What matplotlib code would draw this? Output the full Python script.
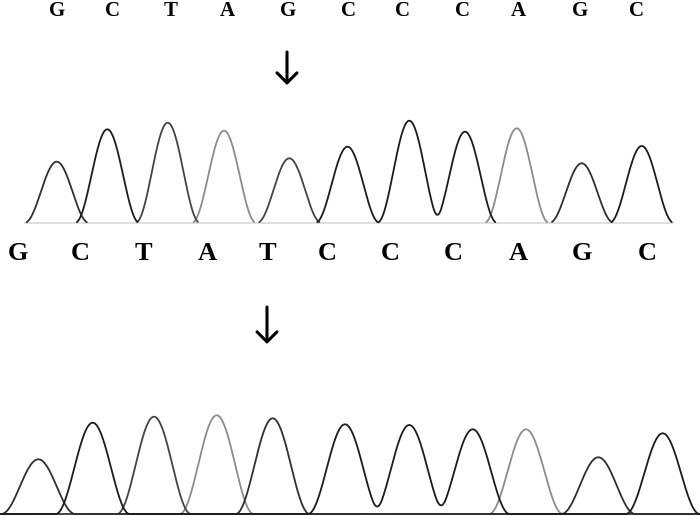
import numpy as np
import matplotlib
matplotlib.use('Agg')
import matplotlib.pyplot as plt
import matplotlib.transforms as mtransforms

# sequence read above the first trace and between the two traces
TOP_LABELS = ['G', 'C', 'T', 'A', 'G', 'C', 'C', 'C', 'A', 'G', 'C']
TOP_LABEL_X = [57, 113, 171, 227, 288, 349, 403, 462, 518, 580, 637]
MID_LABELS = ['G', 'C', 'T', 'A', 'T', 'C', 'C', 'C', 'A', 'G', 'C']
MID_LABEL_X = [18, 80, 143, 207, 267, 327, 390, 453, 518, 582, 647]

# first chromatogram (mutant): called base, peak position (scan), peak height
TRACE1_BASES = ['G', 'C', 'T', 'A', 'T', 'C', 'C', 'C', 'A', 'G', 'C']
TRACE1_POS = [56.7, 107.3, 167.7, 224.0, 289.3, 347.5, 409.3, 465.0, 516.7, 581.7, 641.7]
TRACE1_HEIGHT = [61.0, 93.4, 100.0, 92.0, 64.4, 76.0, 102.0, 91.0, 94.4, 59.4, 76.7]
TRACE1_RANGE = (25, 673)

# second chromatogram (wild type)
TRACE2_BASES = ['G', 'C', 'T', 'A', 'G', 'C', 'C', 'C', 'A', 'G', 'C']
TRACE2_POS = [38.3, 92.7, 154.0, 216.7, 272.7, 345.0, 409.3, 472.7, 526.0, 598.3, 662.7]
TRACE2_HEIGHT = [54.7, 91.3, 97.3, 98.7, 95.7, 89.7, 89.0, 84.7, 84.7, 56.7, 80.7]
TRACE2_RANGE = (0, 700)

# arrows marking the mutated position
ARROW_X = [287, 267]

BASE_COLORS = {'G': '#303030', 'C': '#1c1c1c', 'T': '#444444', 'A': '#8c8c8c'}

W, H = 700, 516
fig = plt.figure(figsize=(W / 100, H / 100), dpi=100)


def px_axes(top, bottom):
    # axes spanning full width, between two pixel rows (measured from top)
    return fig.add_axes([0, (H - bottom) / H, 1, (bottom - top) / H])


def draw_trace(ax, bases, pos, height, xr, half_width, mask):
    # raised-cosine peaks: rounded top, nearly straight flanks
    x = np.linspace(xr[0], xr[1], 1500)
    for b in ['A', 'T', 'G', 'C']:
        y = np.zeros_like(x)
        for bb, p, h in zip(bases, pos, height):
            if bb == b:
                d = np.abs(x - p)
                y += np.where(d < half_width,
                              h * (1 + np.cos(np.pi * d / half_width)) / 2, 0)
        if mask:
            y = np.where(y < 0.5, np.nan, y)
        ax.plot(x, y, color=BASE_COLORS[b], lw=1.3, solid_capstyle='round')


# first trace: baseline 222.7 px, axes from 110 to 230 px
ax1 = px_axes(110, 230)
ax1.set_xlim(0, W)
ax1.set_ylim(-7.3, 112.7)
ax1.plot(TRACE1_RANGE, [0, 0], color='#d9d9d9', lw=1.2)
draw_trace(ax1, TRACE1_BASES, TRACE1_POS, TRACE1_HEIGHT, TRACE1_RANGE, 32, True)
ax1.axis('off')

# second trace: baseline 514 px, axes from 400 to 516 px
ax2 = px_axes(400, 516)
ax2.set_xlim(0, W)
ax2.set_ylim(-2, 114)
draw_trace(ax2, TRACE2_BASES, TRACE2_POS, TRACE2_HEIGHT, TRACE2_RANGE, 37, False)
ax2.axis('off')

# letters and arrows in pixel x, figure-fraction y
trans = mtransforms.blended_transform_factory(ax1.transData, fig.transFigure)
for lab, x in zip(TOP_LABELS, TOP_LABEL_X):
    fig.text(x, (H - 15.5) / H, lab, transform=trans, ha='center', va='baseline',
             fontsize=15, fontweight='bold', family='Liberation Serif')
for lab, x in zip(MID_LABELS, MID_LABEL_X):
    fig.text(x, (H - 260) / H, lab, transform=trans, ha='center', va='baseline',
             fontsize=19, fontweight='bold', family='Liberation Serif')

arrow_rows = [(52, 85), (307, 344)]
for x, (y0, y1) in zip(ARROW_X, arrow_rows):
    ax1.annotate('', xy=(x, (H - y1) / H), xytext=(x, (H - y0) / H),
                 xycoords=trans, textcoords=trans,
                 arrowprops=dict(arrowstyle='->,head_length=0.36,head_width=0.36',
                                 color='black', lw=2.2, mutation_scale=20,
                                 shrinkA=0, shrinkB=0))

fig.savefig('out.png', dpi=100, facecolor='white')
